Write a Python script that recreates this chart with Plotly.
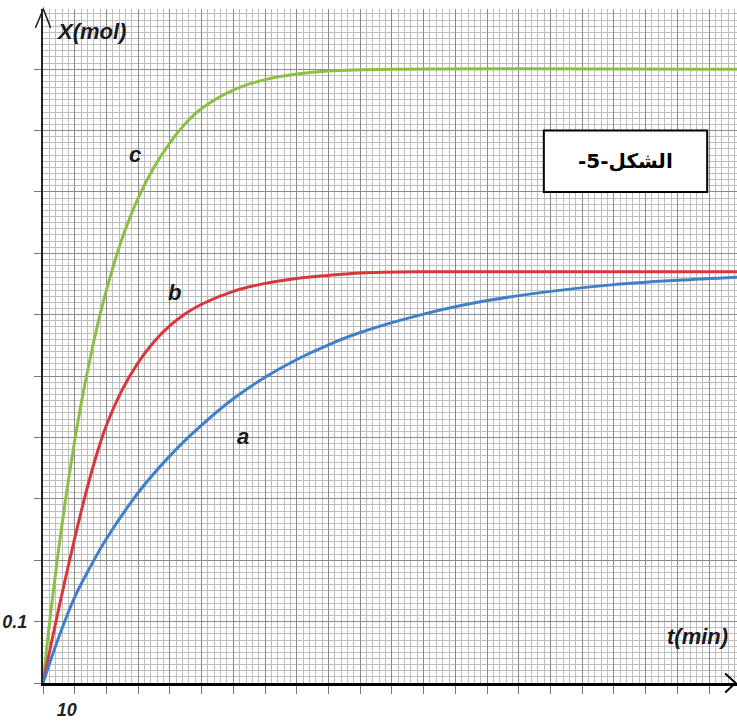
import plotly.graph_objects as go

# ---- data ----
t_a = [0, 5, 10, 15, 20, 30, 40, 50, 60, 70, 80, 90, 100, 120, 140, 160, 180, 200, 219]
x_a = [0, 0.075, 0.14, 0.19, 0.235, 0.31, 0.37, 0.42, 0.463, 0.498, 0.527, 0.551, 0.571, 0.601, 0.623, 0.638, 0.649, 0.656, 0.661]

t_b = [0, 2.5, 5, 7.5, 10, 12.5, 15, 17.5, 20, 25, 30, 35, 40, 45, 50, 60, 70, 80, 90, 100, 120, 219]
x_b = [0, 0.062, 0.122, 0.18, 0.236, 0.289, 0.338, 0.382, 0.42, 0.478, 0.522, 0.556, 0.582, 0.602, 0.617, 0.638, 0.651, 0.659, 0.664, 0.668, 0.67, 0.67]

t_c = [0, 2.5, 5, 7.5, 10, 12.5, 15, 17.5, 20, 25, 30, 35, 40, 45, 50, 60, 70, 80, 90, 110, 219]
x_c = [0, 0.118, 0.221, 0.313, 0.395, 0.468, 0.532, 0.59, 0.64, 0.725, 0.79, 0.84, 0.88, 0.912, 0.936, 0.966, 0.983, 0.992, 0.997, 1.0, 1.0]

x_tickvals = list(range(0, 220, 10))
x_ticktext = ["<b><i>10</i></b>" if v == 10 else "" for v in x_tickvals]
y_tickvals = [round(i * 0.1, 1) for i in range(11)]
y_ticktext = ["<b><i>0.1</i></b>" if v == 0.1 else "" for v in y_tickvals]

FONT = "Liberation Sans Narrow, Arial Narrow, Liberation Sans, Arial, sans-serif"

fig = go.Figure()
fig.add_trace(go.Scatter(x=t_c, y=x_c, mode="lines", line=dict(color="#8dbf45", width=3, shape="spline"), showlegend=False))
fig.add_trace(go.Scatter(x=t_b, y=x_b, mode="lines", line=dict(color="#d8373f", width=3, shape="spline"), showlegend=False))
fig.add_trace(go.Scatter(x=t_a, y=x_a, mode="lines", line=dict(color="#3f80c8", width=3, shape="spline"), showlegend=False))

fig.update_layout(
    width=737, height=722,
    margin=dict(l=43, r=0, t=9, b=39),
    paper_bgcolor="white", plot_bgcolor="white",
    xaxis=dict(range=[0, 218.8], tickmode="array", tickvals=x_tickvals, ticktext=x_ticktext,
               automargin=False,
               showgrid=True, gridcolor="#8a8a8a", gridwidth=1.3,
               minor=dict(dtick=2, tick0=0, showgrid=True, gridcolor="#bdbdbd", gridwidth=1),
               showline=True, linecolor="black", linewidth=3,
               ticks="outside", ticklen=8, tickcolor="#777", tickwidth=1,
               ticklabelshift=-8, ticklabelstandoff=0,
               tickfont=dict(family=FONT, size=18, color="#222"),
               zeroline=False, fixedrange=True),
    yaxis=dict(range=[0, 1.098], tickmode="array", tickvals=y_tickvals, ticktext=y_ticktext,
               automargin=False,
               showgrid=True, gridcolor="#8a8a8a", gridwidth=1.3,
               minor=dict(dtick=0.01, tick0=0, showgrid=True, gridcolor="#bdbdbd", gridwidth=1),
               showline=True, linecolor="#222", linewidth=2,
               ticks="outside", ticklen=7, tickcolor="#777", tickwidth=1,
               ticklabelstandoff=3,
               tickfont=dict(family=FONT, size=18, color="#222"),
               zeroline=False, fixedrange=True),
)

def lab(x, y, text, size=22):
    fig.add_annotation(x=x, y=y, text="<b><i>%s</i></b>" % text, showarrow=False,
                       font=dict(family=FONT, size=size, color="#1a1a1a"))

lab(15.0, 1.062, "X(mol)", 22)
lab(206.5, 0.0756, "t(min)", 22)
lab(29, 0.861, "c", 22)
lab(41.3, 0.636, "b", 22)
lab(63, 0.401, "a", 22)

# title box
fig.add_shape(type="rect", x0=157.9, x1=209.4, y0=0.80, y1=0.90,
              line=dict(color="black", width=2), fillcolor="white", layer="above")
fig.add_annotation(x=183.6, y=0.851, text="<b>-5-الشكل</b>", showarrow=False,
                   font=dict(family="DejaVu Sans, Noto Sans, sans-serif", size=20, color="black"))

# axis arrowheads
fig.add_shape(type="path", xref="x domain", yref="y domain",
              path="M 0.983 0.014 L 0.998 0 L 0.983 -0.014", line=dict(color="black", width=2))
fig.add_shape(type="path", xref="x domain", yref="y domain",
              path="M -0.011 0.972 L 0.0005 1.0 L 0.011 0.972", line=dict(color="#222", width=1.5))

fig.write_html("out.html", config={"displayModeBar": False},
               post_script="document.body.style.margin='0';document.body.style.padding='0';document.documentElement.style.overflow='hidden';")
